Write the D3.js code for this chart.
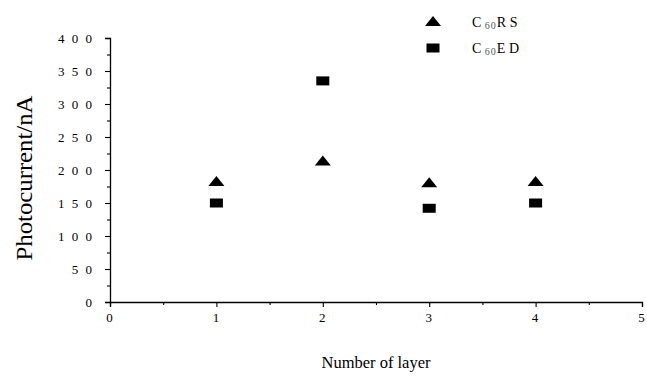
<!DOCTYPE html>
<html lang="en">
<head>
<meta charset="UTF-8">
<title>Photocurrent vs layer</title>
<style>
  body { margin: 0; background: #fff; }
  text { font-family: "Liberation Serif", "Times New Roman", serif; fill: #000; }
</style>
</head>
<body>
<svg id="chart" width="647" height="383"></svg>
<script src="https://d3js.org/d3.v7.min.js"></script>
<script>
var layers = [1, 2, 3, 4];
var rsValues = [182, 213, 180, 182];
var edValues = [150, 335, 142, 150];
var xTicks = [0, 1, 2, 3, 4, 5];
var yTicks = [0, 50, 100, 150, 200, 250, 300, 350, 400];

var svg = d3.select("#chart");

var x = d3.scaleLinear().domain([0, 5]).range([110, 642]);
var y = d3.scaleLinear().domain([0, 400]).range([302, 38]);

// spaced digits like the original "4 0 0"
function spaced(v) { return String(v).split("").join(" "); }

// y axis
svg.append("g").attr("class", "ax").attr("transform", "translate(" + x(0) + ",0)")
  .call(d3.axisLeft(y).tickValues(yTicks).tickSize(5).tickPadding(11).tickFormat(spaced));
svg.append("g").attr("transform", "translate(" + x(0) + ",0)")
  .call(d3.axisLeft(y).tickValues(d3.range(25, 400, 50)).tickSize(3).tickFormat(""))
  .select(".domain").remove();

// x axis
svg.append("g").attr("class", "ax").attr("transform", "translate(0," + y(0) + ")")
  .call(d3.axisBottom(x).tickValues(xTicks).tickSize(5).tickPadding(6).tickFormat(d3.format("d")));
svg.append("g").attr("transform", "translate(0," + y(0) + ")")
  .call(d3.axisBottom(x).tickValues(d3.range(0.5, 5, 1)).tickSize(3).tickFormat(""))
  .select(".domain").remove();

svg.selectAll(".domain").attr("stroke", "#000").attr("stroke-width", 1.3);
svg.selectAll(".tick line").attr("stroke", "#000").attr("stroke-width", 1.1);
svg.selectAll(".ax .tick text")
  .attr("font-family", "Liberation Serif")
  .style("font-family", "'Liberation Serif', serif")
  .style("font-size", "13px")
  .style("letter-spacing", "2px");

// axis titles
svg.append("text")
  .attr("transform", "translate(32,178) rotate(-90)")
  .attr("text-anchor", "middle")
  .attr("textLength", 165)
  .attr("lengthAdjust", "spacingAndGlyphs")
  .style("font-size", "24px")
  .text("Photocurrent/nA");

svg.append("text")
  .attr("x", 376).attr("y", 368)
  .attr("text-anchor", "middle")
  .style("font-size", "16.5px")
  .text("Number of layer");

// markers
var tri = "M-8,4L8,4L0,-6Z";

svg.selectAll(".rs")
  .data(layers)
  .enter().append("path")
  .attr("class", "rs")
  .attr("d", tri)
  .attr("transform", function(d, i) { return "translate(" + x(d) + "," + y(rsValues[i]) + ")"; })
  .attr("fill", "#000");

svg.selectAll(".ed")
  .data(layers)
  .enter().append("rect")
  .attr("class", "ed")
  .attr("x", function(d) { return x(d) - 6.5; })
  .attr("y", function(d, i) { return y(edValues[i]) - 4.5; })
  .attr("width", 13)
  .attr("height", 9)
  .attr("fill", "#000");

// legend
var legend = [
  { name: "R S", shape: "tri" },
  { name: "E D", shape: "sq" }
];
var lg = svg.selectAll(".lg").data(legend).enter().append("g")
  .attr("class", "lg")
  .attr("transform", function(d, i) { return "translate(433," + (22 + i * 26) + ")"; });

lg.filter(function(d) { return d.shape === "tri"; })
  .append("path").attr("d", tri).attr("fill", "#000");
lg.filter(function(d) { return d.shape === "sq"; })
  .append("rect").attr("x", -6.5).attr("y", -4.5).attr("width", 13).attr("height", 9).attr("fill", "#000");

var lt = lg.append("text").attr("x", 39).attr("y", 5).style("font-size", "14px");
lt.append("tspan").text("C ");
lt.append("tspan").style("font-size", "10px").attr("dy", 2).attr("fill", "#555").style("letter-spacing", "1px").text("60");
lt.append("tspan").attr("dy", -2).text(function(d) { return d.name; });
</script>
</body>
</html>
